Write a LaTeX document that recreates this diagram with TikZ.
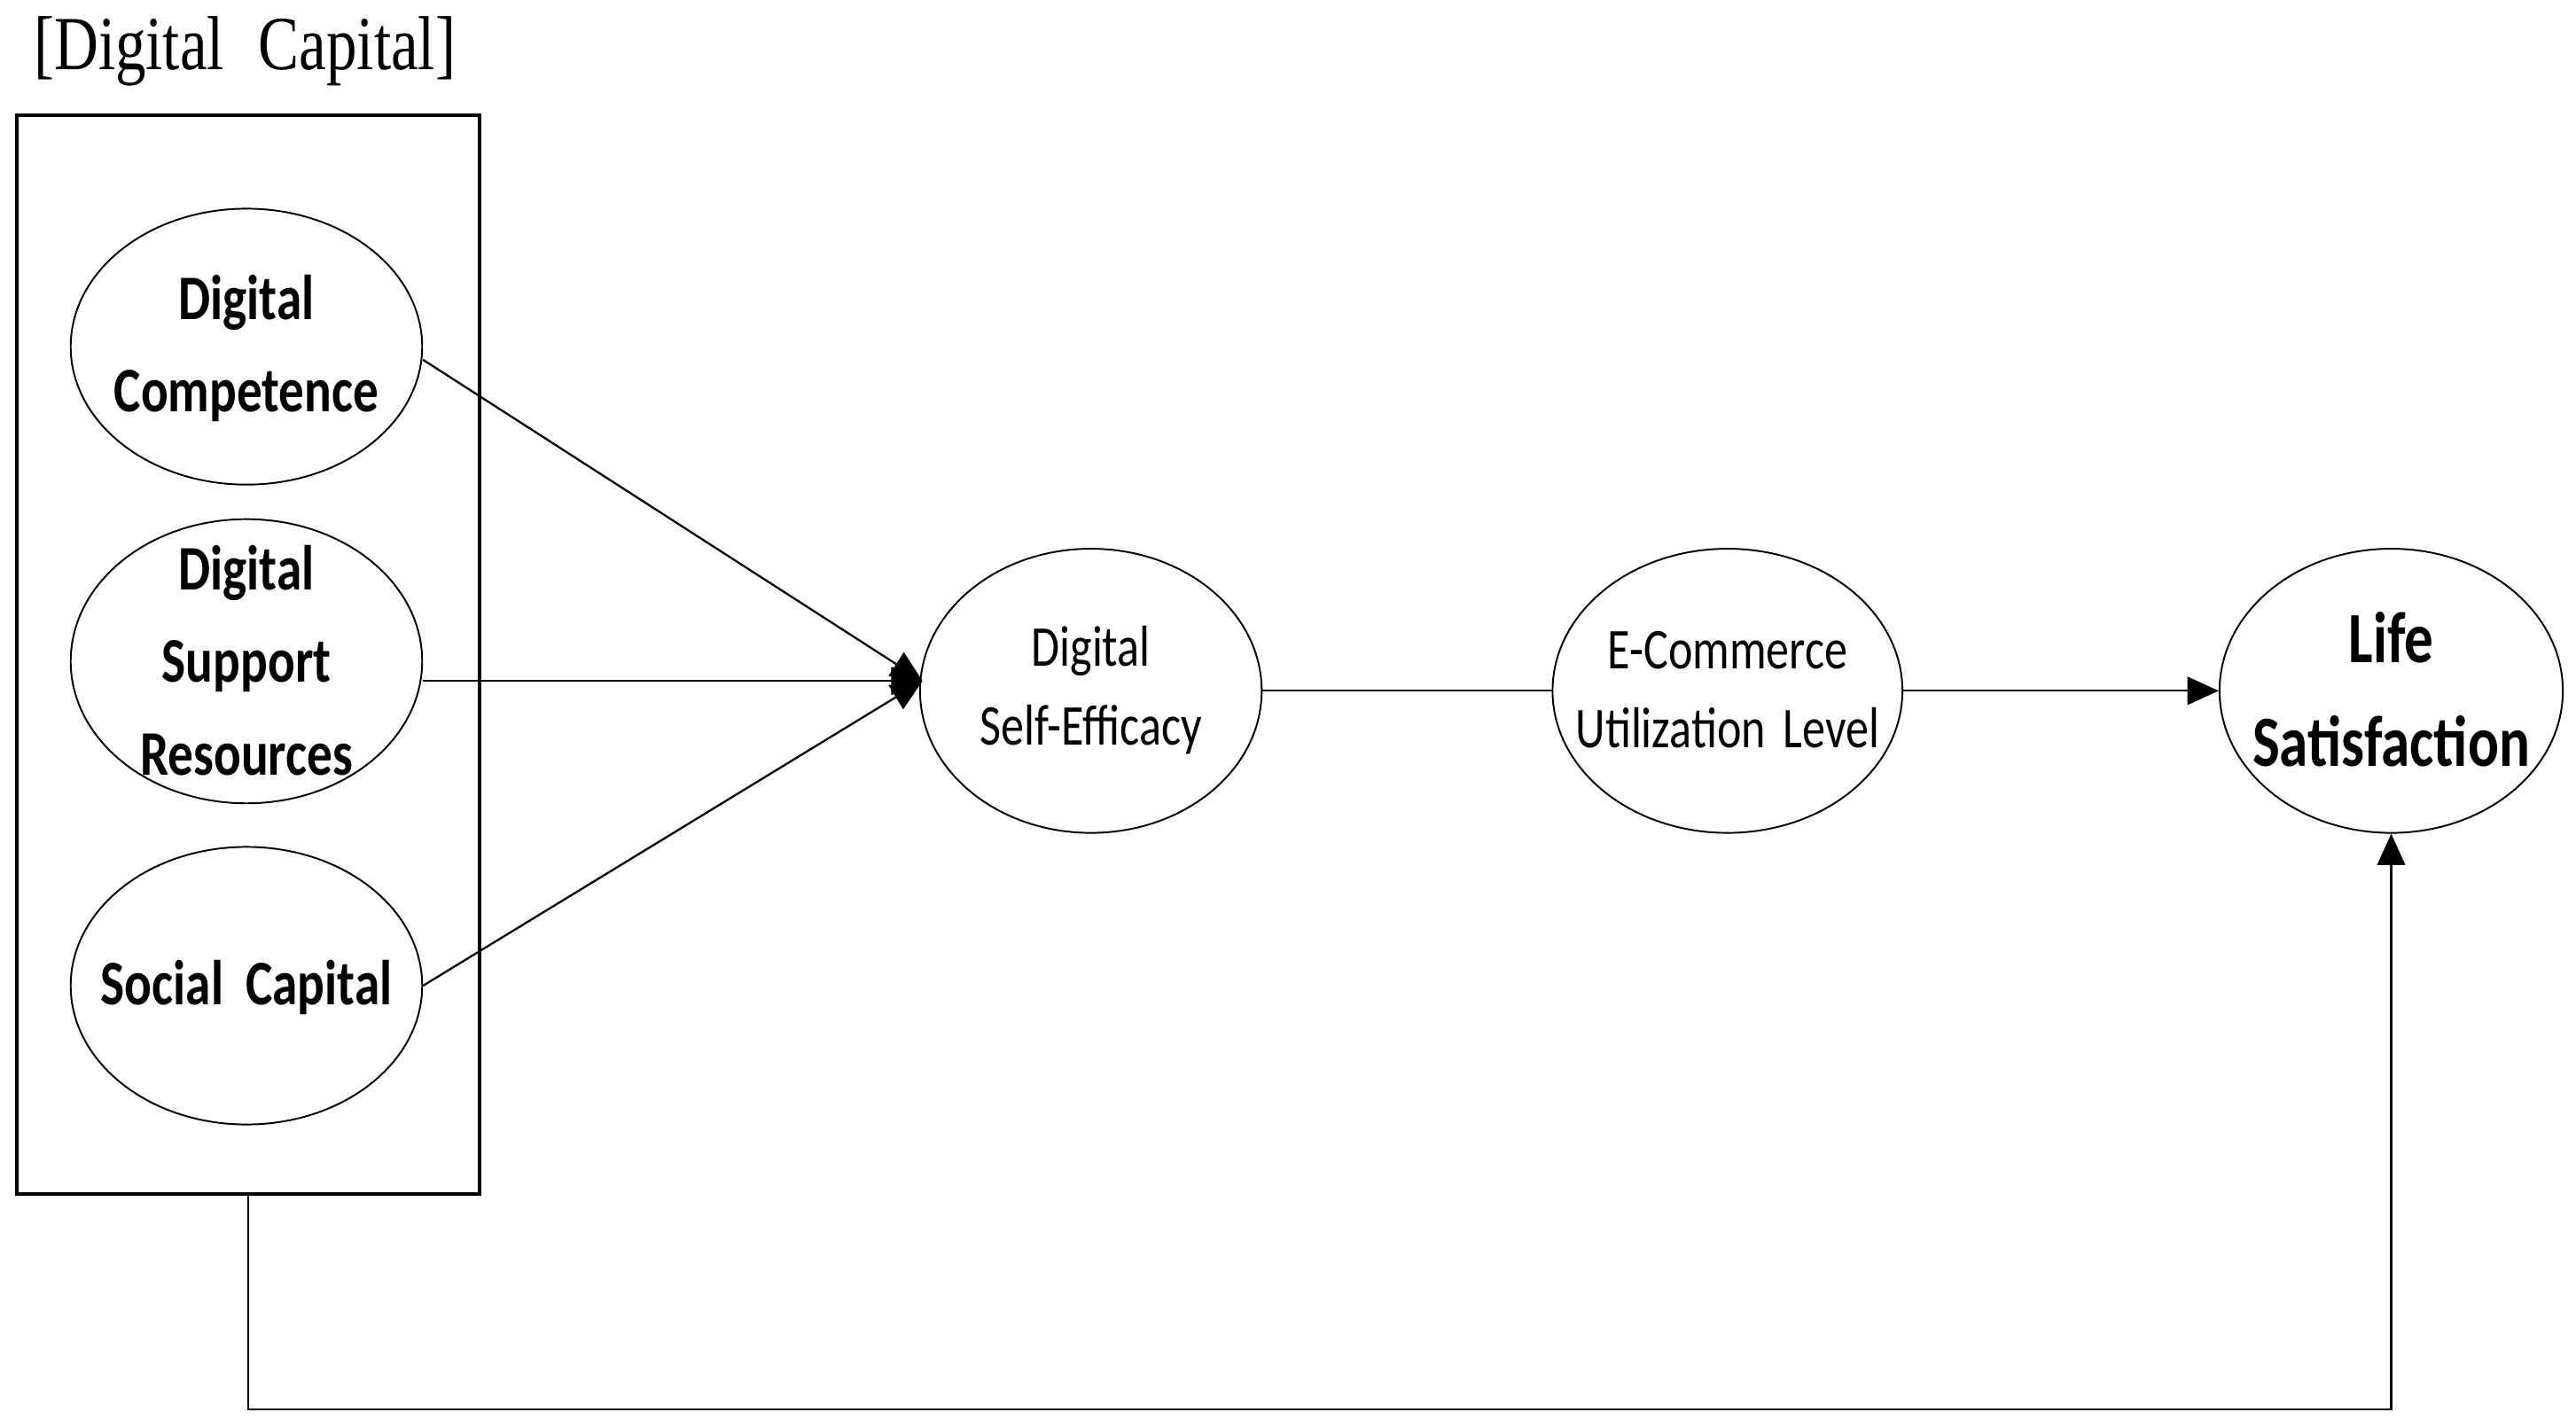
\documentclass[tikz,border=0pt]{standalone}
\usepackage{fontspec}
\setmainfont{Carlito}
\newfontfamily\lblfont[FakeStretch=0.8]{Carlito}
\newfontfamily\titlefont[FakeStretch=0.8]{Liberation Serif}
\usetikzlibrary{shapes.geometric,arrows.meta}
\tikzset{
  ell/.style={draw, ellipse, line width=0.6pt, inner sep=0pt},
  leftlbl/.style={align=center, inner sep=0pt, font=\lblfont\bfseries\fontsize{22pt}{32pt}\selectfont},
  midlbl/.style={align=center, inner sep=0pt, font=\lblfont\fontsize{20pt}{27.3pt}\selectfont},
  lifelbl/.style={align=center, inner sep=0pt, font=\lblfont\bfseries\fontsize{25pt}{35.8pt}\selectfont},
  conn/.style={line width=0.7pt},
  arr/.style={conn, -{Triangle[length=0.38cm,width=0.34cm]}},
}
\begin{document}
\begin{tikzpicture}[x=0.02cm, y=-0.02cm]
\useasboundingbox (0,0) rectangle (1568,869);
% title
\node[inner sep=0pt, font=\titlefont\fontsize{26.5pt}{30pt}\selectfont] (title) at (149,31) {[Digital\hspace{0.45em}Capital]};
% group box
\node[draw, line width=1.2pt, minimum width=5.64cm, minimum height=13.14cm, inner sep=0pt] (box) at (151,398.5) {};
% left ellipses
\node[ell, minimum width=4.28cm, minimum height=3.36cm] (dc) at (150,211) {};
\node[leftlbl] (dctext) at (150,212) {Digital\\Competence};
\node[ell, minimum width=4.28cm, minimum height=3.46cm] (dsr) at (150,402.5) {};
\node[leftlbl] (dsrtext) at (150,402) {Digital\\Support\\Resources};
\node[ell, minimum width=4.28cm, minimum height=3.38cm] (sc) at (150,600) {};
\node[leftlbl] (sctext) at (150,601) {Social\hspace{0.35em}Capital};
% right ellipses
\node[ell, minimum width=4.16cm, minimum height=3.46cm] (dse) at (664,420.5) {};
\node[midlbl] (dsetext) at (664,420) {Digital\\Self-Efficacy};
\node[ell, minimum width=4.26cm, minimum height=3.46cm] (ecom) at (1051.5,420.5) {};
\node[midlbl] (ecomtext) at (1051.5,420) {E-Commerce\\Utilization\hspace{0.3em}Level};
\node[ell, minimum width=4.18cm, minimum height=3.46cm] (life) at (1455.5,420.5) {};
\node[lifelbl] (lifetext) at (1455.5,419.5) {Life\\Satisfaction};
% connectors
\coordinate (conv) at ([shift={(2,-6)}]dse.west);
\draw[arr] ([shift={(0,8)}]dc.east) -- (conv);
\draw[arr] ([shift={(0,12)}]dsr.east) -- (conv);
\draw[arr] (sc.east) -- (conv);
\draw[conn] (dse.east) -- (ecom.west);
\draw[arr] (ecom.east) -- (life.west);
\draw[arr] (box.south) -- ++(0,130) -| (life.south);
\end{tikzpicture}
\end{document}
